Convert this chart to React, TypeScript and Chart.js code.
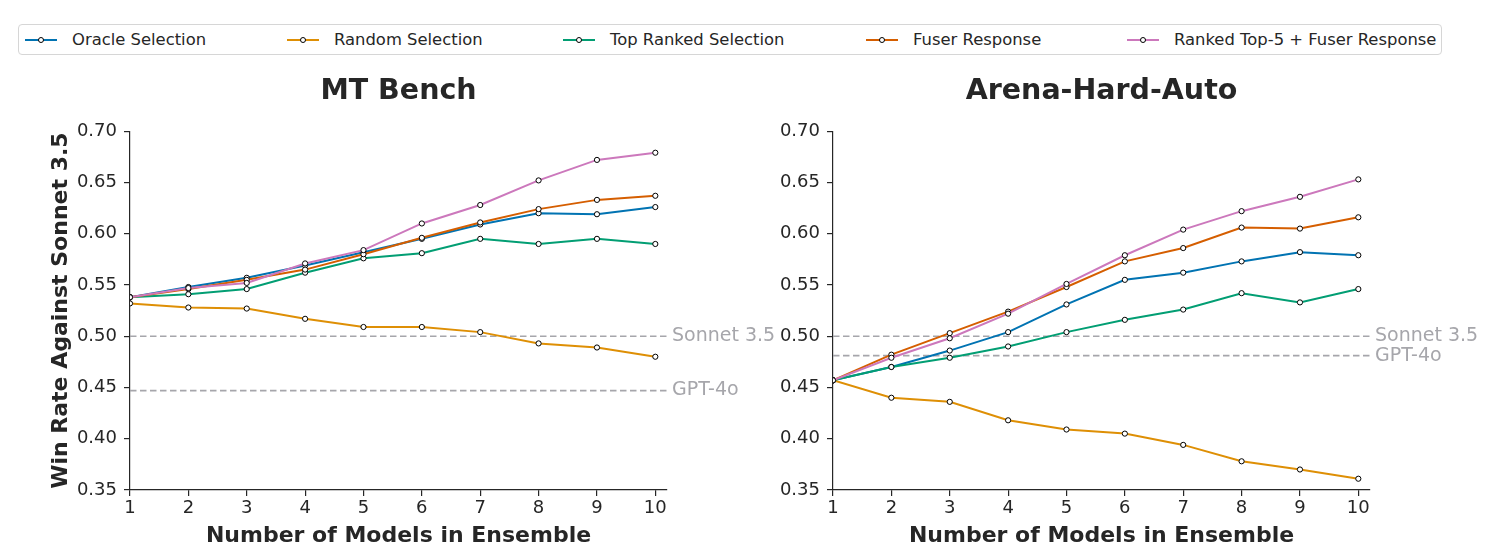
import React, { useEffect, useRef } from "react";
import { Chart, registerables } from "chart.js";

Chart.register(...registerables);

// ---------- data ----------
const ensembleSizes = [1, 2, 3, 4, 5, 6, 7, 8, 9, 10];
const yTickValues = [0.35, 0.4, 0.45, 0.5, 0.55, 0.6, 0.65, 0.7];

const seriesNames = [
  "Oracle Selection",
  "Random Selection",
  "Top Ranked Selection",
  "Fuser Response",
  "Ranked Top-5 + Fuser Response",
];
const seriesColors = ["#0173b2", "#de8f05", "#029e73", "#d55e00", "#cc78bc"];

// MT Bench
const mtOracle = [0.538, 0.548, 0.557, 0.569, 0.582, 0.595, 0.609, 0.62, 0.619, 0.626];
const mtRandom = [0.532, 0.528, 0.527, 0.517, 0.509, 0.509, 0.504, 0.493, 0.489, 0.48];
const mtTopRanked = [0.538, 0.541, 0.546, 0.562, 0.576, 0.581, 0.595, 0.59, 0.595, 0.59];
const mtFuser = [0.538, 0.546, 0.555, 0.565, 0.58, 0.596, 0.611, 0.624, 0.633, 0.637];
const mtRankedFuser = [0.538, 0.547, 0.552, 0.571, 0.584, 0.61, 0.628, 0.652, 0.672, 0.679];

// Arena-Hard-Auto
const ahOracle = [0.457, 0.47, 0.486, 0.504, 0.531, 0.555, 0.562, 0.573, 0.582, 0.579];
const ahRandom = [0.457, 0.44, 0.436, 0.418, 0.409, 0.405, 0.394, 0.378, 0.37, 0.361];
const ahTopRanked = [0.457, 0.47, 0.479, 0.49, 0.504, 0.516, 0.526, 0.542, 0.533, 0.546];
const ahFuser = [0.457, 0.482, 0.503, 0.524, 0.548, 0.573, 0.586, 0.606, 0.605, 0.616];
const ahRankedFuser = [0.457, 0.479, 0.498, 0.522, 0.551, 0.579, 0.604, 0.622, 0.636, 0.653];

// Reference lines
const refNames = ["Sonnet 3.5", "GPT-4o"];
const mtRefValues = [0.5, 0.447];
const ahRefValues = [0.5, 0.481];

const X_MIN = 1;
const X_MAX = 10.2;
const Y_MIN = 0.35;
const Y_MAX = 0.7;

const FONT = "'DejaVu Sans', 'Noto Sans', sans-serif";
const TEXT = "#262626";
const REF_COLOR = "#a6a6ab";

type PanelProps = {
  title: string;
  series: number[][];
  refValues: number[];
  showYTitle: boolean;
  left: number;
  width: number;
  yAxisWidth: number;
  rightPad: number;
};

function Panel({ title, series, refValues, showYTitle, left, width, yAxisWidth, rightPad }: PanelProps) {
  const ref = useRef<HTMLCanvasElement | null>(null);

  useEffect(() => {
    if (!ref.current) return;
    const lineSets = series.map((vals, i) => ({
      label: seriesNames[i],
      data: vals.map((v, j) => ({ x: ensembleSizes[j], y: v })),
      borderColor: seriesColors[i],
      backgroundColor: seriesColors[i],
      borderWidth: 2,
      pointRadius: 2.6,
      pointBorderWidth: 1,
      pointBackgroundColor: "#ffffff",
      pointBorderColor: "#000000",
      tension: 0,
      fill: false,
    }));
    // index 0 drawn on top in Chart.js -> reverse so last series is on top
    const ordered = lineSets.slice().reverse();
    const refSets = refValues.map((v, i) => ({
      label: refNames[i],
      data: [
        { x: X_MIN, y: v },
        { x: X_MAX, y: v },
      ],
      borderColor: REF_COLOR,
      borderWidth: 1.7,
      borderDash: [6.5, 3.5],
      pointRadius: 0,
      fill: false,
    }));

    const refLabelPlugin = {
      id: "refLabels",
      afterDatasetsDraw(chart: any) {
        const { ctx, chartArea, scales } = chart;
        ctx.save();
        ctx.font = `19px ${FONT}`;
        ctx.fillStyle = REF_COLOR;
        ctx.textAlign = "left";
        ctx.textBaseline = "middle";
        refValues.forEach((v, i) => {
          const y = scales.y.getPixelForValue(v);
          ctx.fillText(refNames[i], chartArea.right + 5, y);
        });
        ctx.restore();
      },
    };

    const chart = new Chart(ref.current, {
      type: "line",
      data: { datasets: [...ordered, ...refSets] as any },
      options: {
        animation: false,
        responsive: false,
        devicePixelRatio: 1,
        layout: { padding: { left: 0, right: rightPad, top: 0, bottom: 0 } },
        plugins: {
          legend: { display: false },
          tooltip: { enabled: false },
          title: {
            display: true,
            text: title,
            fullSize: false,
            color: TEXT,
            font: { family: FONT, size: 28.5, weight: "bold" },
            padding: { top: 14, bottom: 23 },
          },
        },
        scales: {
          x: {
            type: "linear",
            min: X_MIN,
            max: X_MAX,
            afterBuildTicks: (s: any) => {
              s.ticks = ensembleSizes.map((v) => ({ value: v }));
            },
            afterFit: (s: any) => {
              s.height = 65;
            },
            ticks: {
              color: TEXT,
              font: { family: FONT, size: 18 },
              padding: 2,
              maxRotation: 0,
              autoSkip: false,
              callback: (v: any) => String(v),
            },
            grid: {
              display: true,
              drawOnChartArea: false,
              drawTicks: true,
              tickLength: 6,
              tickColor: TEXT,
              lineWidth: 1.2,
            },
            border: { display: true, color: TEXT, width: 1.2 },
            title: {
              display: true,
              text: "Number of Models in Ensemble",
              color: TEXT,
              font: { family: FONT, size: 22, weight: "bold" },
              padding: { top: 0, bottom: 6 },
            },
          },
          y: {
            type: "linear",
            min: Y_MIN,
            max: Y_MAX,
            afterBuildTicks: (s: any) => {
              s.ticks = yTickValues.map((v) => ({ value: v }));
            },
            afterFit: (s: any) => {
              s.width = yAxisWidth;
            },
            ticks: {
              color: TEXT,
              font: { family: FONT, size: 18 },
              padding: 7,
              callback: (v: any) => Number(v).toFixed(2),
            },
            grid: {
              display: true,
              drawOnChartArea: false,
              drawTicks: true,
              tickLength: 6,
              tickColor: TEXT,
              lineWidth: 1.2,
            },
            border: { display: true, color: TEXT, width: 1.2 },
            title: {
              display: showYTitle,
              text: "Win Rate Against Sonnet 3.5",
              color: TEXT,
              font: { family: FONT, size: 22, weight: "bold" },
              padding: { top: 48, bottom: 0 },
            },
          },
        },
      } as any,
      plugins: [refLabelPlugin],
    });
    return () => chart.destroy();
  }, []);

  return (
    <div style={{ position: "absolute", left, top: 60, width, height: 495 }}>
      <canvas ref={ref} width={width} height={495} style={{ width, height: 495, display: "block" }} />
    </div>
  );
}

const legendLefts = [25, 287, 563, 866, 1127];

function Legend() {
  return (
    <div
      style={{
        position: "absolute",
        left: 18,
        top: 24,
        width: 1422,
        height: 29,
        border: "1px solid #d6d6d6",
        borderRadius: 4,
        background: "#fff",
      }}
    >
      {seriesNames.map((name, i) => (
        <div
          key={name}
          style={{
            position: "absolute",
            left: legendLefts[i] - 19,
            top: 0,
            height: 29,
            display: "flex",
            alignItems: "center",
          }}
        >
          <div style={{ position: "relative", width: 32, height: 2, background: seriesColors[i] }}>
            <div
              style={{
                position: "absolute",
                left: 13,
                top: -2,
                width: 4,
                height: 4,
                borderRadius: "50%",
                background: "#fff",
                border: "1px solid #000",
              }}
            />
          </div>
          <span
            style={{
              marginLeft: 15,
              fontFamily: FONT,
              fontSize: 16.4,
              color: TEXT,
              whiteSpace: "nowrap",
            }}
          >
            {name}
          </span>
        </div>
      ))}
    </div>
  );
}

export default function App() {
  return (
    <div
      style={{
        position: "absolute",
        left: 0,
        top: 0,
        width: 1488,
        height: 555,
        background: "#ffffff",
        overflow: "hidden",
      }}
    >
      <Legend />
      <Panel
        title="MT Bench"
        series={[mtOracle, mtRandom, mtTopRanked, mtFuser, mtRankedFuser]}
        refValues={mtRefValues}
        showYTitle={true}
        left={0}
        width={800}
        yAxisWidth={130}
        rightPad={133}
      />
      <Panel
        title="Arena-Hard-Auto"
        series={[ahOracle, ahRandom, ahTopRanked, ahFuser, ahRankedFuser]}
        refValues={ahRefValues}
        showYTitle={false}
        left={744}
        width={744}
        yAxisWidth={89}
        rightPad={118}
      />
    </div>
  );
}
